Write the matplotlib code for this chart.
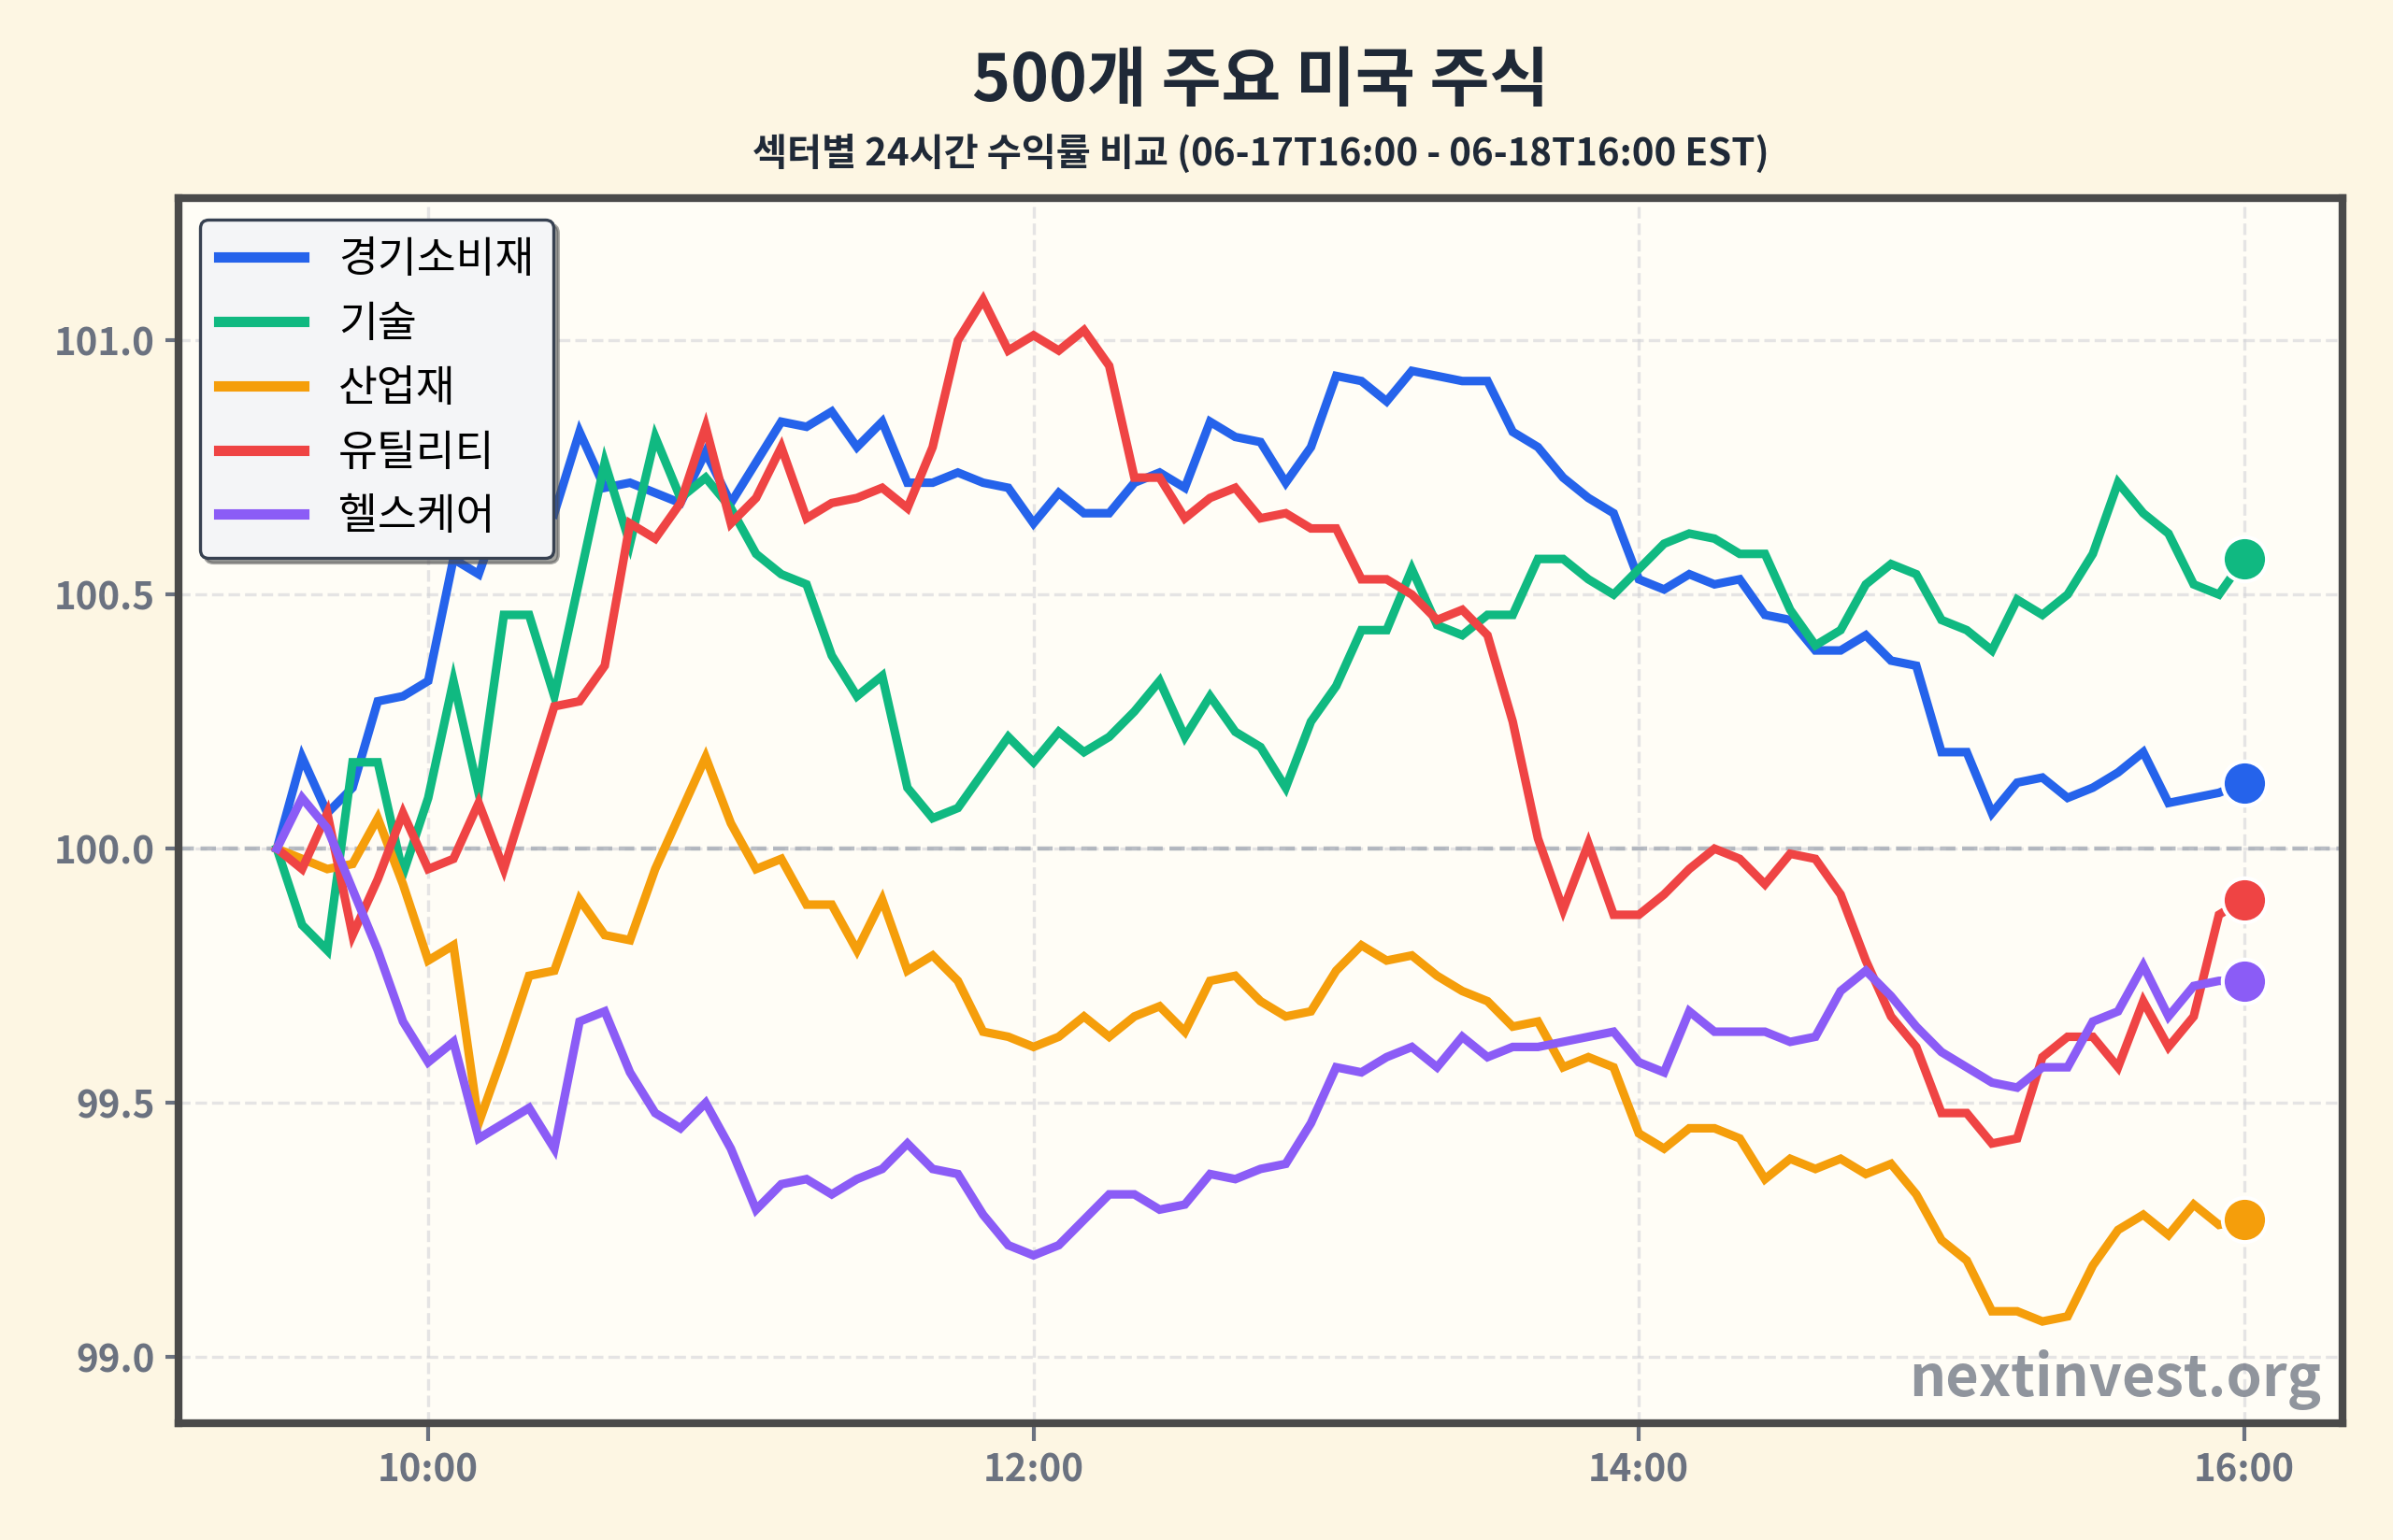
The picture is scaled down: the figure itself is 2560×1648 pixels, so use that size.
import matplotlib
matplotlib.use("Agg")
import matplotlib.pyplot as plt
import numpy as np

plt.rcParams['font.family'] = ['Noto Sans CJK KR', 'DejaVu Sans']

# ---------------- data ----------------
start_hour = 9.5
step_minutes = 5
sectors = ["경기소비재", "기술", "산업재", "유틸리티", "헬스케어"]
colors = ["#2563eb", "#10b981", "#f59e0b", "#ef4444", "#8b5cf6"]

consumer = [100.00, 100.18, 100.07, 100.12, 100.29, 100.30, 100.33, 100.57, 100.54, 100.68,
            100.69, 100.66, 100.82, 100.71, 100.72, 100.70, 100.68, 100.78, 100.68, 100.76,
            100.84, 100.83, 100.86, 100.79, 100.84, 100.72, 100.72, 100.74, 100.72, 100.71,
            100.64, 100.70, 100.66, 100.66, 100.72, 100.74, 100.71, 100.84, 100.81, 100.80,
            100.72, 100.79, 100.93, 100.92, 100.88, 100.94, 100.93, 100.92, 100.92, 100.82,
            100.79, 100.73, 100.69, 100.66, 100.53, 100.51, 100.54, 100.52, 100.53, 100.46,
            100.45, 100.39, 100.39, 100.42, 100.37, 100.36, 100.19, 100.19, 100.07, 100.13,
            100.14, 100.10, 100.12, 100.15, 100.19, 100.09, 100.10, 100.11, 100.13]

tech = [100.00, 99.85, 99.80, 100.17, 100.17, 99.95, 100.10, 100.33, 100.11, 100.46,
        100.46, 100.30, 100.53, 100.76, 100.60, 100.81, 100.69, 100.73, 100.67, 100.58,
        100.54, 100.52, 100.38, 100.30, 100.34, 100.12, 100.06, 100.08, 100.15, 100.22,
        100.17, 100.23, 100.19, 100.22, 100.27, 100.33, 100.22, 100.30, 100.23, 100.20,
        100.12, 100.25, 100.32, 100.43, 100.43, 100.55, 100.44, 100.42, 100.46, 100.46,
        100.57, 100.57, 100.53, 100.50, 100.55, 100.60, 100.62, 100.61, 100.58, 100.58,
        100.47, 100.40, 100.43, 100.52, 100.56, 100.54, 100.45, 100.43, 100.39, 100.49,
        100.46, 100.50, 100.58, 100.72, 100.66, 100.62, 100.52, 100.50, 100.57]

industrial = [100.00, 99.98, 99.96, 99.97, 100.06, 99.93, 99.78, 99.81, 99.46, 99.60,
              99.75, 99.76, 99.90, 99.83, 99.82, 99.96, 100.07, 100.18, 100.05, 99.96,
              99.98, 99.89, 99.89, 99.80, 99.90, 99.76, 99.79, 99.74, 99.64, 99.63,
              99.61, 99.63, 99.67, 99.63, 99.67, 99.69, 99.64, 99.74, 99.75, 99.70,
              99.67, 99.68, 99.76, 99.81, 99.78, 99.79, 99.75, 99.72, 99.70, 99.65,
              99.66, 99.57, 99.59, 99.57, 99.44, 99.41, 99.45, 99.45, 99.43, 99.35,
              99.39, 99.37, 99.39, 99.36, 99.38, 99.32, 99.23, 99.19, 99.09, 99.09,
              99.07, 99.08, 99.18, 99.25, 99.28, 99.24, 99.30, 99.26, 99.27]

utilities = [100.00, 99.96, 100.07, 99.83, 99.94, 100.07, 99.96, 99.98, 100.09, 99.96,
             100.12, 100.28, 100.29, 100.36, 100.64, 100.61, 100.68, 100.83, 100.64, 100.69,
             100.79, 100.65, 100.68, 100.69, 100.71, 100.67, 100.79, 101.00, 101.08, 100.98,
             101.01, 100.98, 101.02, 100.95, 100.73, 100.73, 100.65, 100.69, 100.71, 100.65,
             100.66, 100.63, 100.63, 100.53, 100.53, 100.50, 100.45, 100.47, 100.42, 100.25,
             100.02, 99.88, 100.01, 99.87, 99.87, 99.91, 99.96, 100.00, 99.98, 99.93,
             99.99, 99.98, 99.91, 99.78, 99.67, 99.61, 99.48, 99.48, 99.42, 99.43,
             99.59, 99.63, 99.63, 99.57, 99.70, 99.61, 99.67, 99.87, 99.90]

healthcare = [100.00, 100.10, 100.04, 99.92, 99.80, 99.66, 99.58, 99.62, 99.43, 99.46,
              99.49, 99.41, 99.66, 99.68, 99.56, 99.48, 99.45, 99.50, 99.41, 99.29,
              99.34, 99.35, 99.32, 99.35, 99.37, 99.42, 99.37, 99.36, 99.28, 99.22,
              99.20, 99.22, 99.27, 99.32, 99.32, 99.29, 99.30, 99.36, 99.35, 99.37,
              99.38, 99.46, 99.57, 99.56, 99.59, 99.61, 99.57, 99.63, 99.59, 99.61,
              99.61, 99.62, 99.63, 99.64, 99.58, 99.56, 99.68, 99.64, 99.64, 99.64,
              99.62, 99.63, 99.72, 99.76, 99.71, 99.65, 99.60, 99.57, 99.54, 99.53,
              99.57, 99.57, 99.66, 99.68, 99.77, 99.67, 99.73, 99.74, 99.74]

series = [consumer, tech, industrial, utilities, healthcare]

x_tick_hours = [10, 12, 14, 16]
x_tick_labels = ["10:00", "12:00", "14:00", "16:00"]
y_ticks = [99.0, 99.5, 100.0, 100.5, 101.0]

title = "500개 주요 미국 주식"
subtitle = "섹터별 24시간 수익률 비교 (06-17T16:00 - 06-18T16:00 EST)"
watermark = "nextinvest.org"

# ---------------- plot ----------------
fig = plt.figure(figsize=(12.8, 8.24), dpi=200)
fig.patch.set_facecolor("#fdf6e3")
ax = fig.add_axes([0.0746, 0.0759, 0.9043, 0.7955])
ax.set_facecolor("#fffdf6")

n = len(consumer)
hours = start_hour + np.arange(n) * step_minutes / 60.0

for name, vals, c in zip(sectors, series, colors):
    ax.plot(hours, vals, color=c, lw=3.3, label=name, zorder=3,
            solid_joinstyle="miter")
for vals, c in zip(series, colors):
    ax.scatter([hours[-1]], [vals[-1]], s=290, color=c, edgecolor="white",
               linewidth=1.5, zorder=5)

allv = np.concatenate([np.array(s) for s in series])
ax.set_ylim(allv.min() - 0.2, allv.max() + 0.2)
ax.margins(x=0.05)

ax.axhline(100.0, color="#9ca3af", ls="--", lw=1.6, alpha=0.7, zorder=2)
ax.grid(True, ls="--", color="#d4d4d8", alpha=0.6, lw=1.2, zorder=0)
ax.set_axisbelow(True)

ax.set_xticks(x_tick_hours)
ax.set_xticklabels(x_tick_labels)
ax.set_yticks(y_ticks)
ax.set_yticklabels([f"{v:.1f}" for v in y_ticks])
ax.tick_params(axis="both", colors="#6b7280", labelsize=14.5, width=1.5)
ax.tick_params(axis="x", length=7, pad=4)
ax.tick_params(axis="y", length=5, pad=4)
for lab in ax.get_xticklabels() + ax.get_yticklabels():
    lab.set_fontweight("bold")
    lab.set_color("#6b7280")

for sp in ax.spines.values():
    sp.set_color("#4a4a4a")
    sp.set_linewidth(3)

leg = ax.legend(loc="upper left", fontsize=16.4, frameon=True, fancybox=True, shadow=True,
                facecolor="#f4f5f7", edgecolor="#374151", framealpha=1.0,
                handlelength=2.0, handletextpad=0.8, borderpad=0.45, labelspacing=0.5)
for line in leg.get_lines():
    line.set_linewidth(4.0)
leg.get_frame().set_linewidth(1.2)

ax.text(0.99, 0.022, watermark, transform=ax.transAxes, ha="right", va="baseline",
        fontsize=22, fontweight="bold", color="#6b7280", alpha=0.75, zorder=6)

cx = 0.0746 + 0.9043 / 2
fig.text(cx, 0.9466, title, ha="center", va="center", fontsize=25, fontweight="bold",
         color="#1f2937")
fig.text(cx, 0.9000, subtitle, ha="center", va="center", fontsize=14.5, fontweight="bold",
         color="#1f2937")

fig.savefig("out.png", dpi=200, facecolor=fig.get_facecolor())
